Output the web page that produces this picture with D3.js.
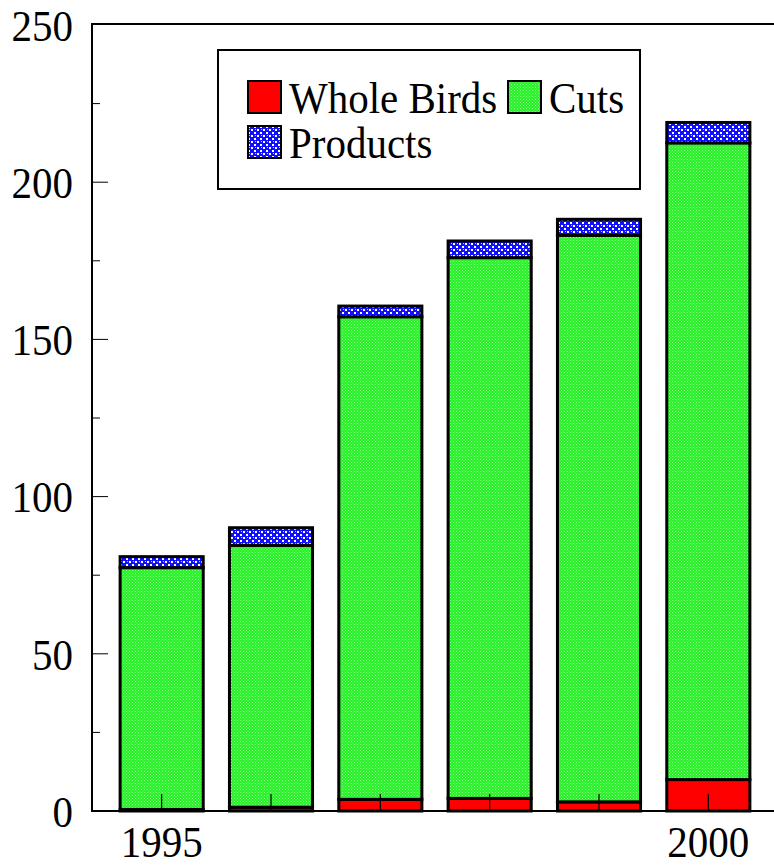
<!DOCTYPE html>
<html>
<head>
<meta charset="utf-8">
<script src="https://cdn.jsdelivr.net/npm/d3@7"></script>
<style>
  body { margin: 0; background: #fff; }
  svg { display: block; font-family: "Liberation Serif", "Times New Roman", serif; }
</style>
</head>
<body>
<svg id="chart" width="774" height="865"></svg>
<script>
// data
var years = ["1995", "1996", "1997", "1998", "1999", "2000"];
var wholeBirds = [0.5, 1.2, 3.7, 4.0, 2.9, 10.0];
var cuts = [76.9, 83.3, 153.5, 172.0, 180.2, 202.5];
var products = [3.5, 5.6, 3.4, 5.3, 5.1, 6.5];
var seriesNames = ["Whole Birds", "Cuts", "Products"];
var yTicks = [0, 50, 100, 150, 200, 250];
var xLabels = ["1995", "2000"];

var svg = d3.select("#chart");

// plot area
var plotLeft = 92, plotRight = 774, plotTop = 25, plotBottom = 811;
var fontSize = 41, stretch = 1.1;

var x = d3.scaleBand().domain(years).range([107, 763])
    .paddingInner(0.24).paddingOuter(0.12);
var y = d3.scaleLinear().domain([0, 250]).range([plotBottom, plotTop]);

// patterns
var defs = svg.append("defs");
var pg = defs.append("pattern").attr("id", "pGreen")
    .attr("patternUnits", "userSpaceOnUse").attr("width", 3).attr("height", 3);
pg.append("rect").attr("width", 3).attr("height", 3).attr("fill", "#2af02a");
pg.append("rect").attr("x", 0).attr("y", 0).attr("width", 1).attr("height", 1).attr("fill", "#8cff8c");
pg.append("rect").attr("x", 1.5).attr("y", 1.5).attr("width", 1).attr("height", 1).attr("fill", "#66f866");

var pb = defs.append("pattern").attr("id", "pBlue")
    .attr("patternUnits", "userSpaceOnUse").attr("width", 6).attr("height", 6);
pb.append("rect").attr("width", 6).attr("height", 6).attr("fill", "#1010ff");
pb.append("rect").attr("x", 0).attr("y", 0).attr("width", 2).attr("height", 2).attr("fill", "#ffffff");
pb.append("rect").attr("x", 3).attr("y", 3).attr("width", 2).attr("height", 2).attr("fill", "#ffffff");
pb.append("rect").attr("x", 1).attr("y", 3).attr("width", 1).attr("height", 1).attr("fill", "#c0c0ff");

var fills = ["#ff0000", "url(#pGreen)", "url(#pBlue)"];

// stack the series
var rows = years.map(function(yr, i) {
  return { year: yr, "Whole Birds": wholeBirds[i], "Cuts": cuts[i], "Products": products[i] };
});
var stacked = d3.stack().keys(seriesNames)(rows);

svg.append("g").selectAll("g")
  .data(stacked)
  .join("g")
    .attr("fill", function(d, i) { return fills[i]; })
  .selectAll("rect")
  .data(function(d) { return d; })
  .join("rect")
    .attr("x", function(d) { return x(d.data.year); })
    .attr("y", function(d) { return y(d[1]); })
    .attr("width", x.bandwidth())
    .attr("height", function(d) { return y(d[0]) - y(d[1]); })
    .attr("stroke", "#000")
    .attr("stroke-width", 3);

// frame: left axis, top line, bottom line
svg.append("line").attr("x1", plotLeft).attr("x2", plotRight).attr("y1", plotTop - 1).attr("y2", plotTop - 1)
    .attr("stroke", "#000").attr("stroke-width", 2);
svg.append("line").attr("x1", plotLeft).attr("x2", plotRight).attr("y1", plotBottom).attr("y2", plotBottom)
    .attr("stroke", "#000").attr("stroke-width", 2);
svg.append("line").attr("x1", plotLeft).attr("x2", plotLeft).attr("y1", plotTop - 2).attr("y2", plotBottom + 1)
    .attr("stroke", "#000").attr("stroke-width", 2);

// helper for slightly tall serif text
function tallText(sel, tx, ty) {
  return sel.attr("transform", "translate(" + tx + "," + ty + ") scale(1," + stretch + ")")
      .attr("font-size", fontSize);
}

// y ticks (inward), major + minor
var yAxis = svg.append("g");
yAxis.selectAll("line.minor")
  .data(d3.range(25, 250, 50))
  .join("line").attr("class", "minor")
    .attr("x1", plotLeft).attr("x2", plotLeft + 8)
    .attr("y1", function(d) { return y(d); }).attr("y2", function(d) { return y(d); })
    .attr("stroke", "#000").attr("stroke-width", 1);
yAxis.selectAll("line.major")
  .data(yTicks.slice(1, -1))
  .join("line").attr("class", "major")
    .attr("x1", plotLeft).attr("x2", plotLeft + 16)
    .attr("y1", function(d) { return y(d); }).attr("y2", function(d) { return y(d); })
    .attr("stroke", "#000").attr("stroke-width", 1);
yAxis.selectAll("text")
  .data(yTicks)
  .join("text")
    .each(function(d) { tallText(d3.select(this), 73, y(d)); })
    .attr("dy", "0.35em")
    .attr("text-anchor", "end")
    .text(function(d) { return d; });

// x ticks at bar centres, pointing up
var xAxis = svg.append("g");
xAxis.selectAll("line")
  .data(years)
  .join("line")
    .attr("x1", function(d) { return x(d) + x.bandwidth() / 2; })
    .attr("x2", function(d) { return x(d) + x.bandwidth() / 2; })
    .attr("y1", plotBottom).attr("y2", plotBottom - 17)
    .attr("stroke", "#000").attr("stroke-width", 1.2);
xAxis.selectAll("text")
  .data(xLabels)
  .join("text")
    .each(function(d) { tallText(d3.select(this), x(d) + x.bandwidth() / 2, 857); })
    .attr("text-anchor", "middle")
    .text(function(d) { return d; });

// legend
var legend = svg.append("g");
legend.append("rect").attr("x", 218).attr("y", 50).attr("width", 422).attr("height", 139)
    .attr("fill", "#fff").attr("stroke", "#000").attr("stroke-width", 2);
var legendPos = [[248, 81], [508, 81], [248, 126]];
var li = legend.selectAll("g.item")
  .data(seriesNames)
  .join("g").attr("class", "item")
    .attr("transform", function(d, i) { return "translate(" + legendPos[i][0] + "," + legendPos[i][1] + ")"; });
li.append("rect").attr("width", 33).attr("height", 32)
    .attr("fill", function(d, i) { return fills[i]; })
    .attr("stroke", "#000").attr("stroke-width", 2);
li.append("text")
    .each(function() { tallText(d3.select(this), 41, 32); })
    .text(function(d) { return d; });
</script>
</body>
</html>
